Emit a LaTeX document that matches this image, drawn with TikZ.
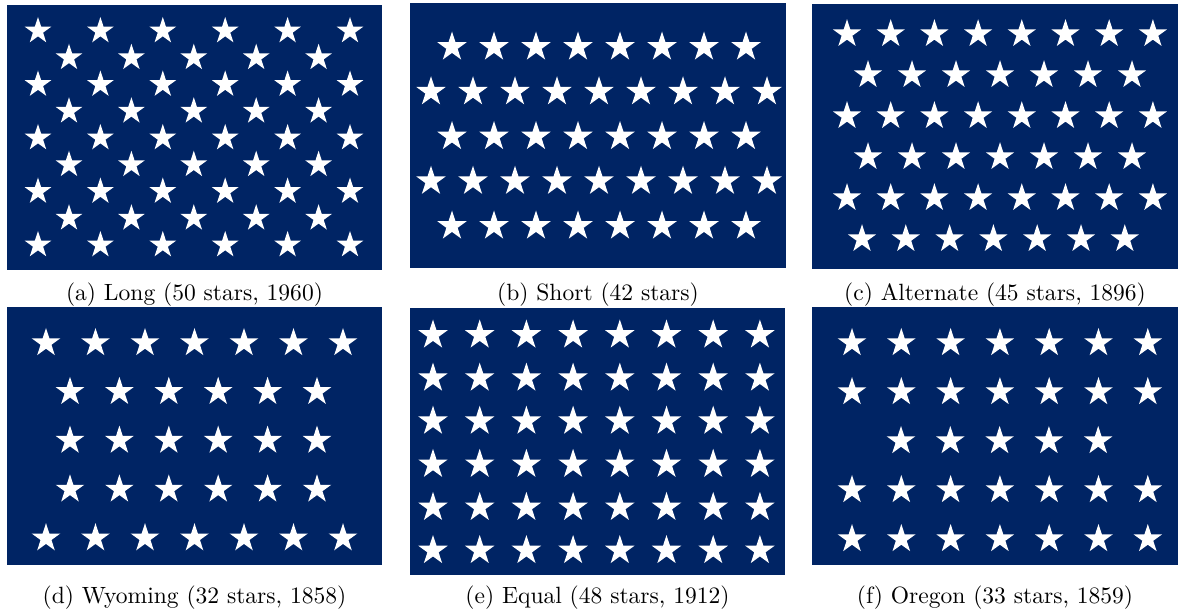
\documentclass[tikz,border=0pt]{standalone}
\usetikzlibrary{positioning}
\definecolor{cantonblue}{RGB}{0,36,100}
\definecolor{starwhite}{RGB}{255,255,255}

\tikzset{
  canton/.style={fill=cantonblue},
  caption/.style={inner sep=0pt, anchor=center},
  pics/flagstar/.style={code={
    \fill[starwhite] (-90:#1) -- (-54:{0.382*#1}) -- (-18:#1) -- (18:{0.382*#1})
      -- (54:#1) -- (90:{0.382*#1}) -- (126:#1) -- (162:{0.382*#1})
      -- (198:#1) -- (234:{0.382*#1}) -- cycle;
  }},
}

\begin{document}
\begin{tikzpicture}[x=0.425pt, y=-0.425pt]
  \useasboundingbox (0,0) rectangle (1186,610);

  % (a) Long: rows of 6 and 5
  \fill[canton] (7,5) rectangle (382,270);
  \foreach \j in {0,2,...,8}
    \foreach \i in {0,...,5}
      \pic at ({38+62.4*\i},{31+26.75*\j}) {flagstar=14};
  \foreach \j in {1,3,...,7}
    \foreach \i in {0,...,4}
      \pic at ({69+62.4*\i},{31+26.75*\j}) {flagstar=14};
  \node[caption] (capa) at (194.5,295) {(a) Long (50 stars, 1960)};

  % (b) Short: rows of 8 and 9
  \fill[canton] (410,3) rectangle (786,268);
  \foreach \j in {0,2,4}
    \foreach \i in {0,...,7}
      \pic at ({452+42*\i},{47+44.75*\j}) {flagstar=15.5};
  \foreach \j in {1,3}
    \foreach \i in {0,...,8}
      \pic at ({431+42*\i},{47+44.75*\j}) {flagstar=15.5};
  \node[caption] (capb) at (598,295) {(b) Short (42 stars)};

  % (c) Alternate: rows of 8 and 7
  \fill[canton] (812,4) rectangle (1178,269);
  \foreach \j in {0,2,4}
    \foreach \i in {0,...,7}
      \pic at ({847+43.7*\i},{34+41*\j}) {flagstar=14.8};
  \foreach \j in {1,3}
    \foreach \i in {0,...,6}
      \pic at ({868+44*\i},{34+41*\j}) {flagstar=14.8};
  \foreach \i in {0,...,6}
    \pic at ({862+43.8*\i},239) {flagstar=14.8};
  \node[caption] (capc) at (995,295) {(c) Alternate (45 stars, 1896)};

  % (d) Wyoming: 7, 6, 6, 6, 7
  \fill[canton] (7,307) rectangle (382,565);
  \foreach \j in {0,4}
    \foreach \i in {0,...,6}
      \pic at ({46+49.5*\i},{343+48.8*\j}) {flagstar=15};
  \foreach \j in {1,2,3}
    \foreach \i in {0,...,5}
      \pic at ({70+49.4*\i},{343+48.8*\j}) {flagstar=15};
  \node[caption] (capd) at (194.5,598) {(d) Wyoming (32 stars, 1858)};

  % (e) Equal: 6 rows of 8
  \fill[canton] (410,308) rectangle (785,575);
  \foreach \j in {0,...,5}
    \foreach \i in {0,...,7}
      \pic at ({433+46.7*\i},{335+43.1*\j}) {flagstar=15.5};
  \node[caption] (cape) at (597.5,598) {(e) Equal (48 stars, 1912)};

  % (f) Oregon: 7, 7, 5, 7, 7
  \fill[canton] (812,307) rectangle (1178,565);
  \foreach \j in {0,1,3,4}
    \foreach \i in {0,...,6}
      \pic at ({852+49.3*\i},{343+49*\j}) {flagstar=15};
  \foreach \i in {0,...,4}
    \pic at ({901+49.3*\i},441) {flagstar=15};
  \node[caption] (capf) at (995,598) {(f) Oregon (33 stars, 1859)};
\end{tikzpicture}
\end{document}
